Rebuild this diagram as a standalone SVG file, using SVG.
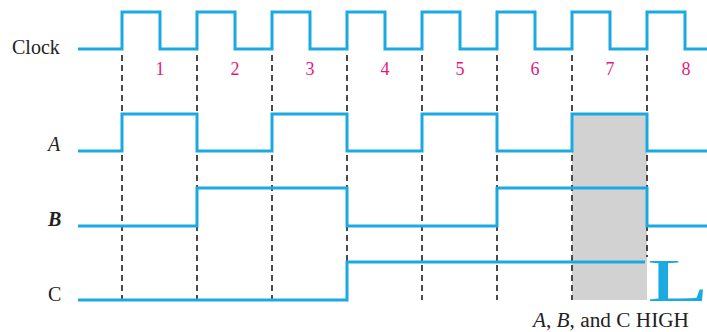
<svg xmlns="http://www.w3.org/2000/svg" width="707" height="332" viewBox="0 0 707 332">
<style>
.wave{fill:none;stroke:#1aa9e1;stroke-width:3;stroke-linejoin:miter}
.dash{stroke:#4a4a4a;stroke-width:2;stroke-dasharray:6 4}
.lbl{font-family:"Liberation Serif",serif;font-size:20px;fill:#222}
.num{font-family:"Liberation Serif",serif;font-size:18px;fill:#e2197f;text-anchor:middle}
</style>
<rect id="highlight" x="572" y="113" width="75" height="187" fill="#d2d2d2"/>
<g id="gridlines">
<line class="dash" x1="122" y1="55" x2="122" y2="300"/>
<line class="dash" x1="197" y1="55" x2="197" y2="300"/>
<line class="dash" x1="272" y1="55" x2="272" y2="300"/>
<line class="dash" x1="347" y1="55" x2="347" y2="300"/>
<line class="dash" x1="422" y1="55" x2="422" y2="300"/>
<line class="dash" x1="497" y1="55" x2="497" y2="300"/>
<line class="dash" x1="572" y1="55" x2="572" y2="300"/>
<line class="dash" x1="647" y1="55" x2="647" y2="257"/>
</g>
<g id="clock">
<text class="lbl" x="12" y="54">Clock</text>
<path class="wave" d="M78,49 H122 V12 H160 V49 H197 V12 H235 V49 H272 V12 H310 V49 H347 V12 H385 V49 H422 V12 H460 V49 H497 V12 H535 V49 H572 V12 H610 V49 H647 V12 H685 V49 H707"/>
</g>
<g id="numbers">
<text class="num" x="160" y="75">1</text>
<text class="num" x="235" y="75">2</text>
<text class="num" x="310" y="75">3</text>
<text class="num" x="385" y="75">4</text>
<text class="num" x="460" y="75">5</text>
<text class="num" x="535" y="75">6</text>
<text class="num" x="610" y="75">7</text>
<text class="num" x="686" y="75">8</text>
</g>
<g id="signalA">
<text class="lbl" x="48" y="151" font-style="italic">A</text>
<path class="wave" d="M78,151 H122 V114 H197 V151 H272 V114 H347 V151 H422 V114 H497 V151 H572 V114 H647 V151 H707"/>
</g>
<g id="signalB">
<text class="lbl" x="48" y="226" font-style="italic" font-weight="bold">B</text>
<path class="wave" d="M78,226 H197 V188 H347 V226 H497 V188 H647 V226 H707"/>
</g>
<g id="signalC">
<text class="lbl" x="48" y="301">C</text>
<path class="wave" d="M78,300 H347 V262 H645"/>
<text x="647" y="301" font-family="Liberation Serif,serif" font-size="62" fill="#1aa9e1" textLength="62" lengthAdjust="spacingAndGlyphs">L</text>
</g>
<g id="caption">
<text class="lbl" x="533" y="327" font-size="19" textLength="156" lengthAdjust="spacingAndGlyphs"><tspan font-style="italic">A</tspan>, <tspan font-style="italic">B</tspan>, and C HIGH</text>
</g>
</svg>
